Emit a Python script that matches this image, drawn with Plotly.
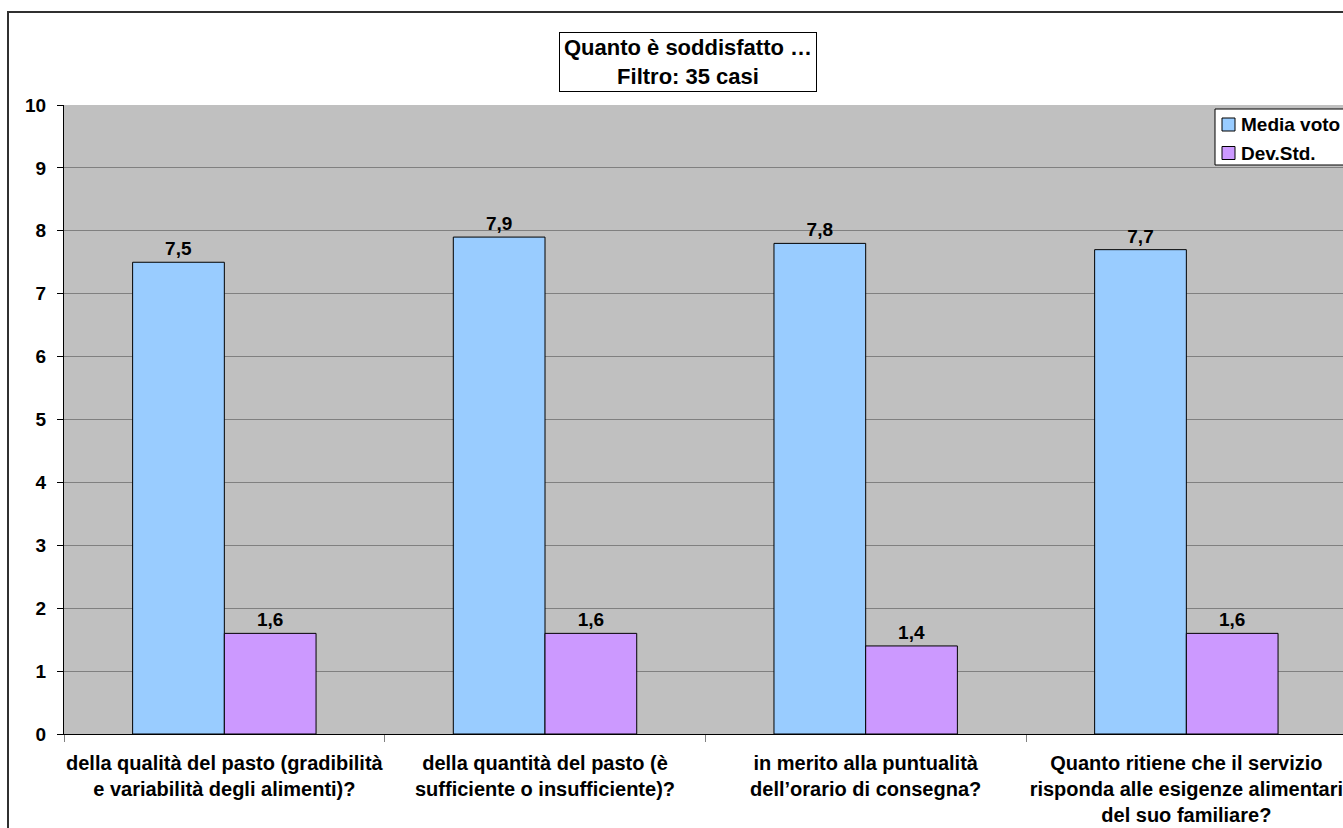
import plotly.graph_objects as go

# Survey items (x categories) and scores
categories = [
    "della qualità del pasto (gradibilità<br>e variabilità degli alimenti)?",
    "della quantità del pasto (è<br>sufficiente o insufficiente)?",
    "in merito alla puntualità<br>dell’orario di consegna?",
    "Quanto ritiene che il servizio<br>risponda alle esigenze alimentari<br>del suo familiare?",
]
series_names = ["Media voto", "Dev.Std."]
media_voto = [7.5, 7.9, 7.8, 7.7]
dev_std = [1.6, 1.6, 1.4, 1.6]
y_ticks = [0, 1, 2, 3, 4, 5, 6, 7, 8, 9, 10]
title_lines = ["Quanto è soddisfatto …", "Filtro: 35 casi"]

FONT = "Liberation Sans, Arial, sans-serif"
COLORS = ["#99CCFF", "#CC99FF"]

W, H = 1343, 828
ML, MR, MT, MB = 64, 0, 105, 94
PW, PH = W - ML - MR, H - MT - MB


def px_x(px):
    """Figure pixel x -> paper coordinate."""
    return (px - ML) / PW


def px_y(py):
    """Figure pixel y (from top) -> paper coordinate."""
    return (H - MB - py) / PH


def it_fmt(v):
    return f"{v:.1f}".replace(".", ",")


def bold(size):
    return dict(family=FONT, size=size, color="black", weight="bold")


fig = go.Figure()
for name, vals, col in zip(series_names, [media_voto, dev_std], COLORS):
    fig.add_trace(go.Bar(
        name=name, x=categories, y=vals,
        marker=dict(color=col, line=dict(color="black", width=1)),
        text=[it_fmt(v) for v in vals], textposition="outside",
        textfont=bold(19), cliponaxis=False, showlegend=False,
    ))

# Outer chart frame
shapes = [dict(type="rect", xref="paper", yref="paper",
               x0=px_x(8), x1=px_x(W + 20), y0=px_y(H + 20), y1=px_y(12),
               line=dict(color="#303030", width=2), fillcolor="rgba(0,0,0,0)",
               layer="below")]
annotations = []

# Legend box (runs past the right edge of the frame)
shapes.append(dict(type="rect", xref="paper", yref="paper",
                   x0=px_x(1215), x1=px_x(W + 20), y0=px_y(165), y1=px_y(109),
                   line=dict(color="black", width=1), fillcolor="white", layer="above"))
for i, (name, col) in enumerate(zip(series_names, COLORS)):
    cy = 124.5 + i * 28.5
    shapes.append(dict(type="rect", xref="paper", yref="paper",
                       x0=px_x(1222), x1=px_x(1235), y0=px_y(cy + 6.5), y1=px_y(cy - 6.5),
                       line=dict(color="black", width=1), fillcolor=col, layer="above"))
    annotations.append(dict(text=name, xref="paper", yref="paper",
                            x=px_x(1239), y=px_y(cy), xanchor="left", yanchor="middle",
                            showarrow=False, font=bold(19)))

# Title box
annotations.append(dict(
    text="<br>".join(title_lines),
    xref="paper", yref="paper", x=px_x(688), y=px_y(92),
    xanchor="center", yanchor="bottom", showarrow=False,
    width=252, borderpad=2,
    bgcolor="white", bordercolor="black", borderwidth=1,
    font=bold(22)))

fig.update_layout(
    width=W, height=H,
    margin=dict(l=ML, r=MR, t=MT, b=MB, autoexpand=False),
    paper_bgcolor="white", plot_bgcolor="#C0C0C0",
    barmode="group", bargap=0.428, bargroupgap=0,
    font=bold(19),
    showlegend=False,
    xaxis=dict(
        type="category", range=[-0.5, 3.4885],
        showline=True, linecolor="black", linewidth=1,
        ticks="outside", tickson="boundaries", ticklen=7, tickcolor="#808080",
        showgrid=False, tickfont=bold(20), ticklabelstandoff=11, tickangle=0,
    ),
    yaxis=dict(
        range=[0, 10], tickvals=y_ticks,
        showline=True, linecolor="black", linewidth=1,
        ticks="outside", ticklen=6, tickcolor="black",
        showgrid=True, gridcolor="#808080", gridwidth=1,
        zeroline=False, ticklabelstandoff=7,
        tickfont=bold(19),
    ),
    shapes=shapes,
    annotations=annotations,
)

fig.write_html("out.html")
